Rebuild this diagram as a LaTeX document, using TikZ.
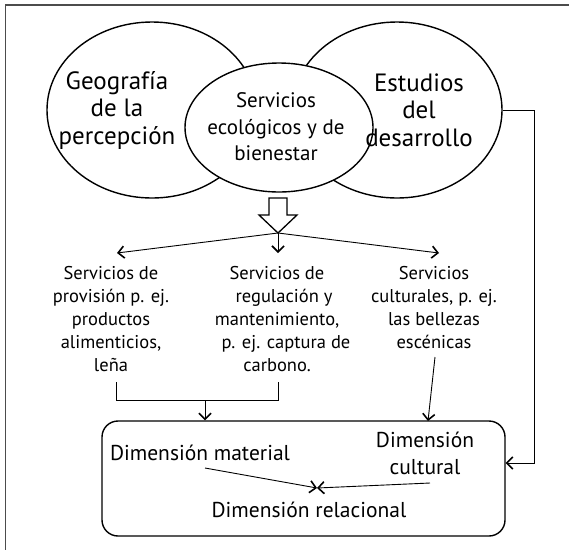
\documentclass[tikz,border=0pt]{standalone}
\usepackage{fontspec}
\setmainfont{PT Sans}
\usetikzlibrary{arrows.meta,shapes.geometric}
\begin{document}
\begin{tikzpicture}[x=1pt,y=-1pt,
  ell/.style={draw, ellipse, line width=1.4pt, inner sep=0pt},
  bigtxt/.style={align=center, inner sep=0pt, font=\fontsize{25}{27.5}\selectfont},
  midtxt/.style={align=center, inner sep=0pt, font=\fontsize{21}{26.5}\selectfont},
  coltxt/.style={align=center, inner sep=0pt, font=\fontsize{18.5}{23}\selectfont},
  dimtxt/.style={align=center, inner sep=0pt, font=\fontsize{21.5}{27}\selectfont},
  conn/.style={line width=0.9pt},
  arr/.style={conn, -{Straight Barb[length=6pt,width=12pt,line width=1.6pt]}},
  frame/.style={line width=1.1pt, black!70}]
\useasboundingbox (0,0) rectangle (569,550);
% partial frame
\coordinate (fTL) at (5.5,5);
\coordinate (fTR) at (569,5);
\coordinate (fBL) at (5.5,550);
\draw[frame] (fTR) -- (fTL) -- (fBL);

% ellipses
\node[ell, minimum width=210, minimum height=176] (geo) at (152,110) {};
\node[ell, minimum width=210, minimum height=176] (est) at (397,110) {};
\node[ell, fill=white, minimum width=188, minimum height=129] (serv) at (279,127.5) {};
\node[bigtxt] (geoT) at (117,110) {Geografía\\de la\\percepción};
\node[bigtxt] (estT) at (419,110) {Estudios\\del\\desarrollo};
\node[midtxt] (servT) at (276,127) {Servicios\\ecológicos y de\\bienestar};

% hollow block arrow
\draw[line width=1.3pt, fill=white] (269,198) -- (287,198) -- (287,215) -- (297,215)
  -- (278,233) -- (259,215) -- (269,215) -- cycle;
\coordinate (tip) at (278,233);

% three service columns
\node[coltxt] (c1) at (111,319) {Servicios de\\provisión p. ej.\\productos\\alimenticios,\\leña};
\node[coltxt] (c2) at (277,319) {Servicios de\\\hspace*{14pt}regulación y\\mantenimiento,\hspace*{20pt}\\\hspace*{18pt}p. ej. captura de\\carbono.};
\node[coltxt] (c3) at (434,308) {Servicios\\culturales, p. ej.\\las bellezas\\escénicas};

\coordinate (a1) at (117,253);
\coordinate (a2) at (278,253);
\coordinate (a3) at (439,253);
\draw[arr] (tip) -- (a1);
\draw[arr] (tip) -- (a2);
\draw[arr] (tip) -- (a3);

% dimensions box
\node[draw, line width=1.4pt, rounded corners=16pt, minimum width=403, minimum height=115] (box) at (303.5,478.5) {};
\node[dimtxt] (dm) at (200,453) {Dimensión material};
\node[dimtxt] (dc) at (425,453.5) {Dimensión\\cultural};
\node[dimtxt] (dr) at (309,510) {Dimensión relacional};

% merge of columns 1 and 2
\coordinate (m1) at (116,382);
\coordinate (m2) at (278,382);
\coordinate (mj) at (205,400);
\draw[conn] (m1) |- (mj) -| (m2);
\draw[arr] (mj) -- (mj |- box.north);
% column 3 to box
\coordinate (m3) at (435,357);
\coordinate (m3e) at (428,421);
\draw[arr] (m3) -- (m3e);
% Estudios to box
\coordinate (rc) at (534,463);
\draw[arr] (est.east) -| (rc) -- (rc -| box.east);

% inner arrows
\coordinate (rel) at (317,488);
\coordinate (dmS) at (205,468);
\coordinate (dcS) at (430,483);
\draw[arr] (dmS) -- (rel);
\draw[arr] (dcS) -- (rel);
\end{tikzpicture}
\end{document}
